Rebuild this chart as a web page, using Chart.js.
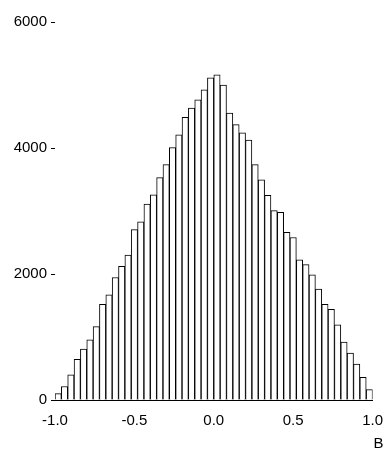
<!DOCTYPE html>
<html lang="en">
<head>
  <meta charset="UTF-8">
  <title>Histogram of B</title>
  <script src="https://cdn.jsdelivr.net/npm/chart.js"></script>
  <style>
    body { margin: 0; background: #fff; }
  </style>
</head>
<body>
  <canvas id="histChart" width="387" height="455"></canvas>
  <script>
    // bin centres (width 0.04) and counts
    var binCenters = [-0.98, -0.94, -0.90, -0.86, -0.82, -0.78, -0.74, -0.70, -0.66, -0.62,
                      -0.58, -0.54, -0.50, -0.46, -0.42, -0.38, -0.34, -0.30, -0.26, -0.22,
                      -0.18, -0.14, -0.10, -0.06, -0.02, 0.02, 0.06, 0.10, 0.14, 0.18,
                      0.22, 0.26, 0.30, 0.34, 0.38, 0.42, 0.46, 0.50, 0.54, 0.58,
                      0.62, 0.66, 0.70, 0.74, 0.78, 0.82, 0.86, 0.90, 0.94, 0.98];
    var counts = [100, 215, 400, 645, 810, 955, 1165, 1520, 1670, 1945,
                  2120, 2300, 2705, 2830, 3110, 3255, 3530, 3735, 4005, 4210,
                  4485, 4635, 4765, 4925, 5115, 5160, 5000, 4555, 4370, 4240,
                  4125, 3735, 3495, 3250, 3005, 2980, 2660, 2580, 2225, 2150,
                  1985, 1760, 1520, 1440, 1195, 920, 745, 570, 360, 165];
    var xTicks = [-1.0, -0.5, 0.0, 0.5, 1.0];
    var yTicks = [0, 2000, 4000, 6000];
    var xTitle = 'B';

    var points = binCenters.map(function (c, i) { return { x: c, y: counts[i] }; });

    // axis title sits a little right of the axis end, so draw it by hand
    var titlePlugin = {
      id: 'xTitle',
      afterDraw: function (chart) {
        var c = chart.ctx;
        var xs = chart.scales.x;
        c.save();
        c.fillStyle = '#000000';
        c.font = '15px "Liberation Sans"';
        c.textAlign = 'right';
        c.textBaseline = 'middle';
        c.fillText(xTitle, xs.right + 11, xs.bottom - 8);
        c.restore();
      }
    };

    var ctx = document.getElementById('histChart').getContext('2d');
    var myChart = new Chart(ctx, {
      type: 'bar',
      data: {
        datasets: [{
          data: points,
          backgroundColor: '#ffffff',
          borderColor: '#000000',
          borderWidth: 1,
          barPercentage: 1.0,
          categoryPercentage: 1.0
        }]
      },
      options: {
        responsive: false,
        animation: false,
        layout: { padding: { top: 22, right: 12, bottom: 3, left: 0 } },
        plugins: {
          legend: { display: false },
          tooltip: { enabled: false }
        },
        scales: {
          x: {
            type: 'linear',
            min: -1,
            max: 1,
            offset: false,
            afterBuildTicks: function (scale) {
              scale.ticks = xTicks.map(function (v) { return { value: v }; });
            },
            afterFit: function (scale) { scale.height = 52; },
            grid: { display: false },
            border: { display: true, color: '#000000', width: 1 },
            ticks: {
              color: '#000000',
              font: { family: 'Liberation Sans', size: 15 },
              padding: 4,
              maxRotation: 0,
              callback: function (v) { return v.toFixed(1); }
            }
          },
          y: {
            min: 0,
            max: 6000,
            afterBuildTicks: function (scale) {
              scale.ticks = yTicks.map(function (v) { return { value: v }; });
            },
            afterFit: function (scale) { scale.width = 55; },
            grid: {
              display: true,
              drawOnChartArea: false,
              drawTicks: true,
              tickLength: 4,
              color: '#000000'
            },
            border: { display: false },
            ticks: {
              color: '#000000',
              font: { family: 'Liberation Sans', size: 15 },
              padding: 4,
              callback: function (v) { return String(v); }
            }
          }
        }
      },
      plugins: [titlePlugin]
    });
  </script>
</body>
</html>
